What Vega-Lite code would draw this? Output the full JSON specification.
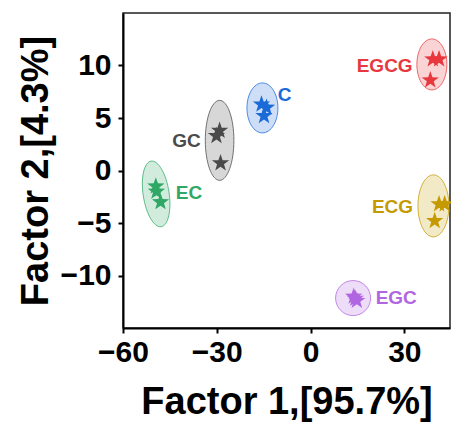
{
  "$schema": "https://vega.github.io/schema/vega-lite/v6.json",
  "autosize": {"type": "none"},
  "padding": {"left": 123, "top": 13, "right": 1, "bottom": 100},
  "width": 327,
  "height": 315,
  "background": "white",
  "config": {
    "view": {"stroke": "#222222", "strokeWidth": 1.5},
    "font": "Liberation Sans",
    "axis": {
      "labelFont": "Liberation Sans",
      "labelFontWeight": "bold",
      "labelFontSize": 30,
      "labelColor": "#000000",
      "titleFont": "Liberation Sans",
      "titleFontWeight": "bold",
      "titleFontSize": 38,
      "titleColor": "#000000",
      "domainColor": "#000000",
      "domainWidth": 2,
      "tickColor": "#000000",
      "tickWidth": 2,
      "tickSize": 5,
      "grid": false,
      "labelFlush": false
    }
  },
  "datasets": {
    "ellipses": [
      {"group": "EGCG", "x": 38.8, "y": 10.1},
      {"group": "C", "x": -15.4, "y": 5.96},
      {"group": "GC", "x": -29.1, "y": 2.87},
      {"group": "EC", "x": -49.4, "y": -2.23},
      {"group": "ECG", "x": 39.3, "y": -3.37},
      {"group": "EGC", "x": 13.6, "y": -12.15}
    ],
    "stars": [
      {"group": "EGCG", "x": 39.1, "y": 10.6},
      {"group": "EGCG", "x": 41.1, "y": 10.6},
      {"group": "EGCG", "x": 38.3, "y": 8.6},
      {"group": "C", "x": -15.7, "y": 6.3},
      {"group": "C", "x": -14.1, "y": 6.0},
      {"group": "C", "x": -14.9, "y": 5.2},
      {"group": "GC", "x": -29.1, "y": 3.8},
      {"group": "GC", "x": -30.1, "y": 3.3},
      {"group": "GC", "x": -28.8, "y": 0.7},
      {"group": "EC", "x": -49.5, "y": -1.5},
      {"group": "EC", "x": -49.3, "y": -2.0},
      {"group": "EC", "x": -48.0, "y": -3.0},
      {"group": "ECG", "x": 41.1, "y": -3.2},
      {"group": "ECG", "x": 42.9, "y": -3.2},
      {"group": "ECG", "x": 39.7, "y": -4.8},
      {"group": "EGC", "x": 13.8, "y": -12.0},
      {"group": "EGC", "x": 14.8, "y": -12.4},
      {"group": "EGC", "x": 14.3, "y": -12.2}
    ],
    "names": [
      {"group": "EGCG", "x": 23.7, "y": 10.0},
      {"group": "C", "x": -8.3, "y": 7.2},
      {"group": "GC", "x": -39.7, "y": 2.8},
      {"group": "EC", "x": -38.9, "y": -2.1},
      {"group": "ECG", "x": 26.2, "y": -3.45},
      {"group": "EGC", "x": 27.4, "y": -12.17}
    ]
  },
  "layer": [
    {
      "data": {"name": "ellipses"},
      "mark": {"type": "point", "filled": true, "size": 4, "fillOpacity": 0.22, "strokeOpacity": 0.75, "strokeWidth": 1},
      "encoding": {
        "x": {
          "field": "x", "type": "quantitative",
          "scale": {"domain": [-60, 44.6], "nice": false, "zero": false},
          "axis": {
            "values": [-60, -30, 0, 30],
            "title": "Factor 1,[95.7%]",
            "labelPadding": 4,
            "titleY": 85,
            "titleBaseline": "alphabetic"
          }
        },
        "y": {
          "field": "y", "type": "quantitative",
          "scale": {"domain": [-15, 15], "nice": false, "zero": false},
          "axis": {
            "values": [-10, -5, 0, 5, 10],
            "title": "Factor 2,[4.3%]",
            "labelPadding": 7,
            "titleX": -76,
            "titleY": 157.5,
            "titleAngle": -90,
            "titleAlign": "center",
            "titleBaseline": "alphabetic"
          }
        },
        "color": {
          "field": "group", "type": "nominal",
          "scale": {
            "domain": ["EGCG", "C", "GC", "EC", "ECG", "EGC"],
            "range": ["#e8383d", "#1a6ad8", "#4a4a4a", "#2fa866", "#c49a00", "#b066e0"]
          },
          "legend": null
        },
        "stroke": {
          "field": "group", "type": "nominal",
          "scale": {
            "domain": ["EGCG", "C", "GC", "EC", "ECG", "EGC"],
            "range": ["#e8383d", "#1a6ad8", "#4a4a4a", "#2fa866", "#c49a00", "#b066e0"]
          },
          "legend": null
        },
        "shape": {
          "field": "group", "type": "nominal",
          "scale": {
            "domain": ["EGCG", "C", "GC", "EC", "ECG", "EGC"],
            "range": [
              "M0,-25.5C8.28,-25.5 15,-14.08 15,0C15,14.08 8.28,25.5 0,25.5C-8.28,25.5 -15,14.08 -15,0C-15,-14.08 -8.28,-25.5 0,-25.5Z",
              "M0,-25C8.56,-25 15.5,-13.81 15.5,0C15.5,13.81 8.56,25 0,25C-8.56,25 -15.5,13.81 -15.5,0C-15.5,-13.81 -8.56,-25 0,-25Z",
              "M0,-40C7.9,-40 14.3,-22.09 14.3,0C14.3,22.09 7.9,40 0,40C-7.9,40 -14.3,22.09 -14.3,0C-14.3,-22.09 -7.9,-40 0,-40Z",
              "M-5.01,-32.8C2.08,-33.88 10.07,-20.08 12.84,-1.96C15.61,16.16 12.1,31.72 5.01,32.8C-2.08,33.88 -10.07,20.08 -12.84,1.96C-15.61,-16.16 -12.1,-31.72 -5.01,-32.8Z",
              "M0,-31C8.56,-31 15.5,-17.12 15.5,0C15.5,17.12 8.56,31 0,31C-8.56,31 -15.5,17.12 -15.5,0C-15.5,-17.12 -8.56,-31 0,-31Z",
              "M0,-17.5C9.67,-17.5 17.5,-9.67 17.5,0C17.5,9.67 9.67,17.5 0,17.5C-9.67,17.5 -17.5,9.67 -17.5,0C-17.5,-9.67 -9.67,-17.5 0,-17.5Z"
            ]
          },
          "legend": null
        }
      }
    },
    {
      "data": {"name": "stars"},
      "mark": {
        "type": "point",
        "shape": "M0,-1L0.235,-0.324L0.951,-0.309L0.38,0.124L0.588,0.809L0,0.4L-0.588,0.809L-0.38,0.124L-0.951,-0.309L-0.235,-0.324Z",
        "filled": true, "size": 330, "opacity": 1, "strokeWidth": 0
      },
      "encoding": {
        "x": {"field": "x", "type": "quantitative"},
        "y": {"field": "y", "type": "quantitative"},
        "color": {"field": "group", "type": "nominal", "legend": null}
      }
    },
    {
      "data": {"name": "names"},
      "mark": {"type": "text", "font": "Liberation Sans", "fontWeight": "bold", "fontSize": 19, "align": "center", "baseline": "middle"},
      "encoding": {
        "x": {"field": "x", "type": "quantitative"},
        "y": {"field": "y", "type": "quantitative"},
        "color": {"field": "group", "type": "nominal", "legend": null},
        "text": {"field": "group", "type": "nominal"}
      }
    }
  ]
}
